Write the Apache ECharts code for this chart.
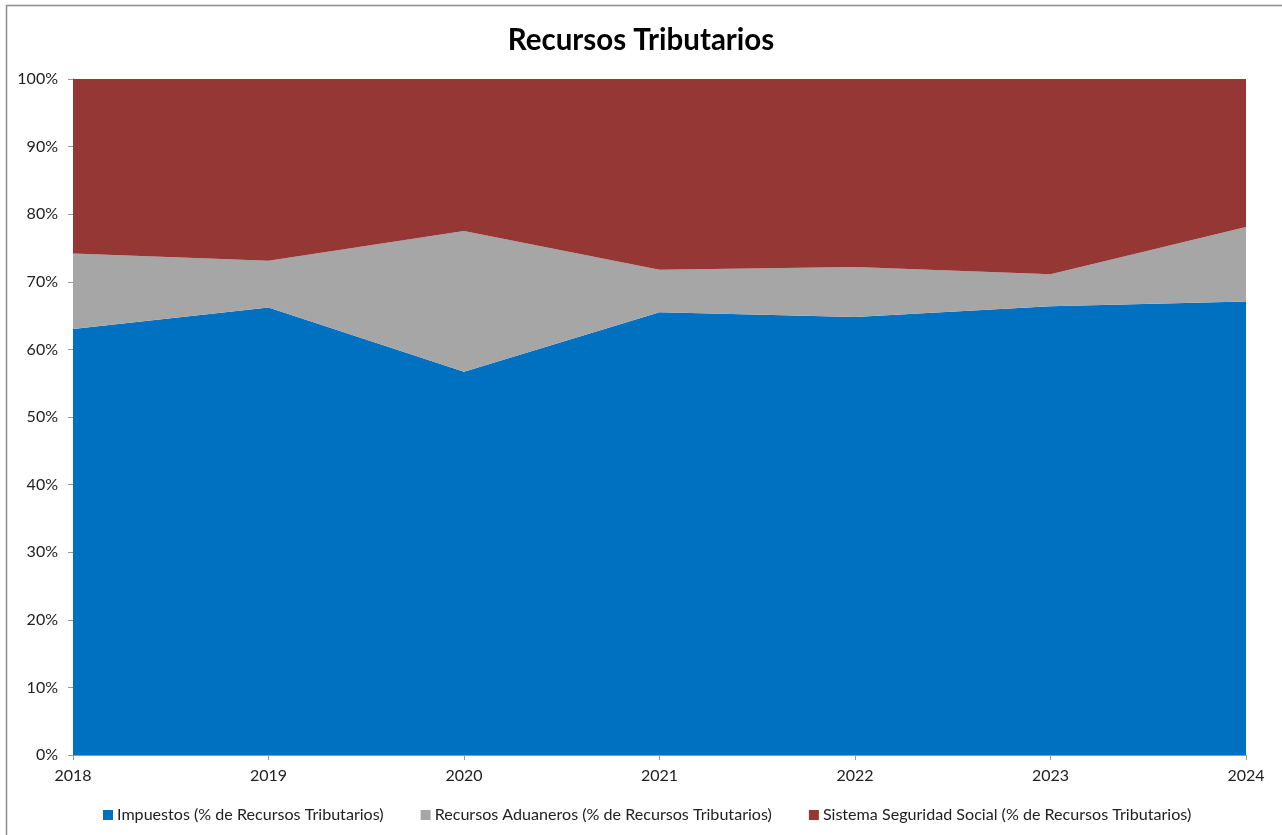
<!DOCTYPE html>
<html>
<head>
<meta charset="utf-8">
<script src="https://cdn.jsdelivr.net/npm/echarts@6/dist/echarts.min.js"></script>
<style>
  html, body { margin: 0; padding: 0; background: #fff; }
  #chart { width: 1282px; height: 835px; }
</style>
</head>
<body>
<div id="chart"></div>
<script>
// Years on the horizontal axis
const years = ['2018', '2019', '2020', '2021', '2022', '2023', '2024'];

// Shares of total tax resources (%), stacked to 100
const impuestos = [63.0, 66.2, 56.7, 65.5, 64.8, 66.4, 67.1];
const aduaneros = [11.2, 6.9, 20.8, 6.3, 7.4, 4.7, 11.0];
const seguridadSocial = [25.8, 26.9, 22.5, 28.2, 27.8, 28.9, 21.9];

const seriesNames = [
  'Impuestos (% de Recursos Tributarios)',
  'Recursos Aduaneros (% de Recursos Tributarios)',
  'Sistema Seguridad Social (% de Recursos Tributarios)'
];

const FONT = 'Lato, "Open Sans", sans-serif';

function areaSeries(name, data, color) {
  return {
    name: name,
    type: 'line',
    stack: 'total',
    data: data,
    symbol: 'none',
    lineStyle: { width: 0 },
    areaStyle: { color: color, opacity: 1 },
    itemStyle: { color: color },
    emphasis: { disabled: true }
  };
}

const chart = echarts.init(document.getElementById('chart'), null, { renderer: 'canvas' });
chart.setOption({
  animation: false,
  backgroundColor: '#ffffff',
  title: {
    text: 'Recursos Tributarios',
    left: 'center',
    top: 20,
    textStyle: { fontFamily: FONT, fontSize: 29.5, fontWeight: 'bold', color: '#000' }
  },
  graphic: [{
    type: 'rect',
    shape: { x: 6.5, y: 5.5, width: 1400, height: 1000 },
    style: { fill: null, stroke: '#8c8c8c', lineWidth: 1.5 },
    silent: true,
    z: 100
  }],
  legend: {
    top: 807,
    left: 103,
    padding: 0,
    itemWidth: 10,
    itemHeight: 10,
    itemGap: 37,
    icon: 'rect',
    textStyle: { fontFamily: FONT, fontSize: 16.1, color: '#222', padding: [0, 0, 0, -1] },
    data: seriesNames
  },
  grid: { left: 73, right: 36, top: 79, bottom: 80, containLabel: false },
  xAxis: {
    type: 'category',
    data: years,
    boundaryGap: false,
    axisLine: { lineStyle: { color: '#999', width: 1 } },
    axisTick: { show: true, alignWithLabel: true, length: 5, lineStyle: { color: '#999' } },
    axisLabel: { fontFamily: FONT, fontSize: 16, color: '#222', margin: 13 },
    splitLine: { show: false }
  },
  yAxis: {
    type: 'value',
    min: 0,
    max: 100,
    interval: 10,
    axisLine: { show: true, lineStyle: { color: '#999', width: 1 } },
    axisTick: { show: true, length: 5, lineStyle: { color: '#999' } },
    axisLabel: { fontFamily: FONT, fontSize: 16, color: '#222', formatter: '{value}%', margin: 15 },
    splitLine: { show: false }
  },
  series: [
    areaSeries(seriesNames[0], impuestos, '#0070C0'),
    areaSeries(seriesNames[1], aduaneros, '#A6A6A6'),
    areaSeries(seriesNames[2], seguridadSocial, '#953735')
  ]
});
</script>
</body>
</html>
